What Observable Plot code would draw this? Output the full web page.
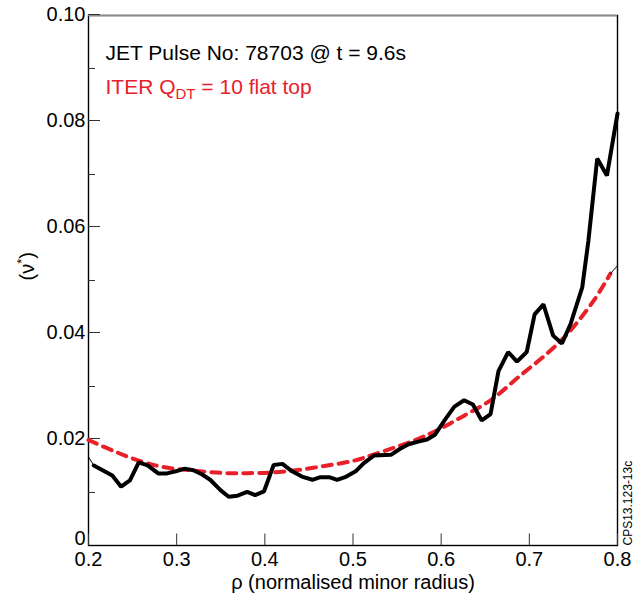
<!DOCTYPE html>
<html><head><meta charset="utf-8">
<script src="https://cdn.jsdelivr.net/npm/d3@7"></script>
<script src="https://cdn.jsdelivr.net/npm/@observablehq/plot@0.6"></script>
<style>
body{margin:0;background:#fff;}
#wrap{width:644px;height:599px;}
</style></head><body><div id="wrap"></div>
<script>
// JET pulse 78703 collisionality profile (thick black)
const jetRho = [0.206,0.216,0.227,0.237,0.247,0.257,0.267,0.279,0.289,0.299,0.309,0.319,0.329,0.338,0.350,0.359,0.369,0.380,0.389,0.399,0.410,0.420,0.431,0.442,0.454,0.463,0.473,0.482,0.491,0.503,0.512,0.524,0.543,0.553,0.563,0.574,0.584,0.593,0.605,0.615,0.626,0.636,0.646,0.656,0.665,0.676,0.686,0.697,0.706,0.716,0.727,0.737,0.747,0.760,0.767,0.777,0.788,0.800];
const jetNu  = [0.0151,0.0142,0.0132,0.0111,0.0123,0.0157,0.0151,0.0136,0.0136,0.0140,0.0145,0.0142,0.0134,0.0124,0.0104,0.0092,0.0094,0.0101,0.0095,0.0102,0.0152,0.0154,0.0140,0.0130,0.0124,0.0129,0.0129,0.0124,0.0129,0.0140,0.0155,0.0170,0.0171,0.0182,0.0191,0.0196,0.0200,0.0209,0.0239,0.0262,0.0274,0.0266,0.0236,0.0248,0.0329,0.0365,0.0347,0.0365,0.0436,0.0455,0.0396,0.0381,0.0419,0.0487,0.0575,0.0730,0.0698,0.0815];
// thin lead-in segment of the JET profile
const jetEdgeRho = [0.200,0.206];
const jetEdgeNu  = [0.0167,0.0151];
// ITER Q_DT = 10 flat top (red dashed)
const iterRho = [0.200,0.229,0.257,0.285,0.316,0.350,0.380,0.410,0.440,0.471,0.501,0.524,0.569,0.595,0.626,0.656,0.690,0.720,0.743,0.773,0.792];
const iterNu  = [0.0199,0.0178,0.0160,0.0148,0.0142,0.0137,0.01365,0.0138,0.0143,0.0151,0.0160,0.0172,0.0198,0.0217,0.0245,0.0274,0.0321,0.0362,0.0399,0.0462,0.0513];
// thin tail of the ITER profile
const iterEdgeRho = [0.792,0.800];
const iterEdgeNu  = [0.0513,0.0528];

const xTicks = [0.2,0.3,0.4,0.5,0.6,0.7,0.8];
const yTicks = [0.02,0.04,0.06,0.08,0.10];
const yZero = [0];
const yMinor = [0.01,0.03,0.05,0.07,0.09];
const xDomain = [0.2,0.8];
const yDomain = [0,0.1];

const xTitle = "ρ (normalised minor radius)";
const yTitle = "(ν*)";
const legendJet = "JET Pulse No: 78703 @ t = 9.6s";
const legendIter = "ITER QDT = 10 flat top";
const credit = "CPS13.123-13c";

const RED = "#e8202a";
const FONT = "'Liberation Sans', Arial, Helvetica, sans-serif";

const jet = jetRho.map((r,i)=>({r, v: jetNu[i]}));
const jetEdge = jetEdgeRho.map((r,i)=>({r, v: jetEdgeNu[i]}));
const iter = iterRho.map((r,i)=>({r, v: iterNu[i]}));
const iterEdge = iterEdgeRho.map((r,i)=>({r, v: iterEdgeNu[i]}));

const plot = Plot.plot({
  width: 644, height: 599,
  marginLeft: 88, marginRight: 27, marginTop: 15, marginBottom: 54,
  style: {fontFamily: FONT, fontSize: "20px", background: "#fff", color: "#000", overflow: "visible"},
  x: {domain: xDomain},
  y: {domain: yDomain},
  marks: [
    Plot.frame({stroke: "#000", strokeWidth: 1.4}),
    Plot.ruleY([yDomain[1]], {stroke: "#8a8a8a", strokeWidth: 1.6}),
    Plot.axisX(xTicks, {tickSize: -11.5, tickPadding: 11.5 + 6, tickFormat: d => d.toFixed(1), fontSize: 20, label: null, stroke: "#333"}),
    Plot.axisY(yTicks, {tickSize: -12, tickPadding: 12 + 3, tickFormat: d => d.toFixed(2), fontSize: 20, label: null, stroke: "#333", dy: -1}),
    Plot.axisY(yZero, {tickSize: 0, tickPadding: 3, tickFormat: d => "0", fontSize: 20, label: null, dy: -7}),
    Plot.axisY(yMinor, {tickSize: -7, tickFormat: () => "", label: null, stroke: "#333"}),
    Plot.line(iter, {x: "r", y: "v", stroke: RED, strokeWidth: 4, strokeDasharray: "9,7", curve: "catmull-rom"}),
    Plot.line(iterEdge, {x: "r", y: "v", stroke: "#000", strokeWidth: 1}),
    Plot.line(jet, {x: "r", y: "v", stroke: "#000", strokeWidth: 4, strokeLinejoin: "miter"}),
    Plot.line(jetEdge, {x: "r", y: "v", stroke: "#000", strokeWidth: 1}),
    Plot.text([xTitle], {frameAnchor: "bottom", dy: 37, fontSize: 20, lineAnchor: "middle"}),
    Plot.text([yTitle], {frameAnchor: "left", dx: -61, rotate: -90, fontSize: 20, lineAnchor: "middle"}),
    Plot.text([legendJet], {frameAnchor: "top-left", dx: 17, dy: 38, fontSize: 21, textAnchor: "start", lineAnchor: "middle", fill: "#000"}),
    Plot.text([legendIter], {frameAnchor: "top-left", dx: 17, dy: 72, fontSize: 21, textAnchor: "start", lineAnchor: "middle", fill: RED}),
    Plot.text([credit], {frameAnchor: "bottom-right", dx: 11, rotate: -90, textAnchor: "start", fontSize: 12, lineAnchor: "middle"})
  ]
});

// rich text: superscript on ν*, subscript on Q_DT
plot.querySelectorAll("text").forEach(t => {
  const NS = "http://www.w3.org/2000/svg";
  if (t.textContent === yTitle) {
    t.textContent = "";
    const a = document.createElementNS(NS, "tspan"); a.textContent = "(ν";
    const b = document.createElementNS(NS, "tspan"); b.textContent = "*"; b.setAttribute("font-size", "13"); b.setAttribute("dy", "-8");
    const c = document.createElementNS(NS, "tspan"); c.textContent = ")"; c.setAttribute("dy", "8");
    t.append(a, b, c);
  } else if (t.textContent === legendIter) {
    t.textContent = "";
    const a = document.createElementNS(NS, "tspan"); a.textContent = "ITER Q";
    const b = document.createElementNS(NS, "tspan"); b.textContent = "DT"; b.setAttribute("font-size", "15"); b.setAttribute("dy", "5");
    const c = document.createElementNS(NS, "tspan"); c.textContent = " = 10 flat top"; c.setAttribute("dy", "-5");
    t.append(a, b, c);
  }
});

document.getElementById("wrap").append(plot);
</script>
</body></html>
